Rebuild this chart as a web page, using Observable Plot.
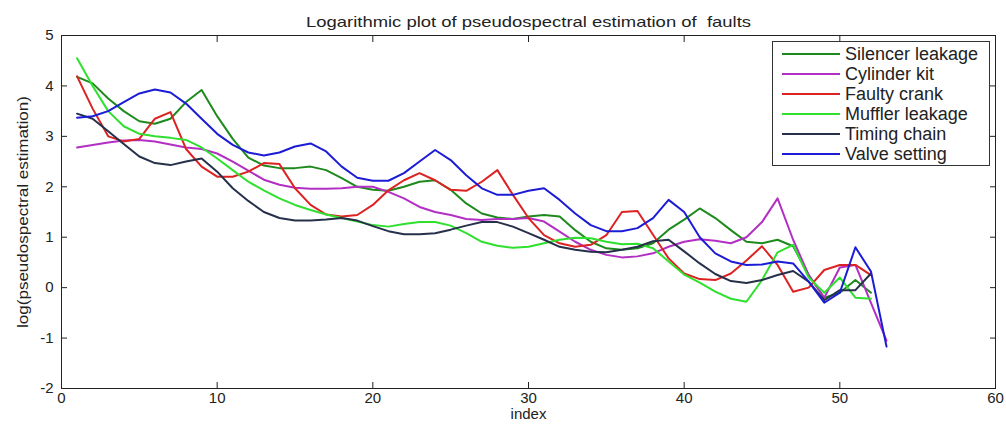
<!DOCTYPE html>
<html>
<head>
<meta charset="utf-8">
<script src="https://cdn.jsdelivr.net/npm/d3@7"></script>
<script src="https://cdn.jsdelivr.net/npm/@observablehq/plot@0.6"></script>
<style>
  body { margin: 0; background: #fff; }
  #wrap { position: relative; width: 1006px; height: 424px; font-family: "Liberation Sans", Arial, sans-serif; }
  #legend { position: absolute; left: 772px; top: 41px; width: 218px; height: 125px; border: 1px solid #333; background: #fff; box-sizing: border-box; padding-top: 2px; }
  .row { height: 20px; display: flex; align-items: center; font-size: 18px; color: #222; white-space: nowrap; }
  .sw { width: 58px; height: 0; border-top: 2.5px solid; margin-left: 9px; margin-right: 5px; }
</style>
</head>
<body>
<div id="wrap"></div>
<script>
const titleText = "Logarithmic plot of pseudospectral estimation of  faults";
const xLabel = "index";
const yLabel = "log(pseudospectral estimation)";
const xTicks = [0, 10, 20, 30, 40, 50, 60];
const yTicks = [-2, -1, 0, 1, 2, 3, 4, 5];

const seriesNames = ["Silencer leakage", "Cylinder kit", "Faulty crank", "Muffler leakage", "Timing chain", "Valve setting"];
const seriesColors = ["#1e8a1e", "#b32fc4", "#dd2222", "#2fe02f", "#26304a", "#1c1cd6"];

const silencerLeakage = [4.18,4.05,3.75,3.5,3.3,3.25,3.35,3.68,3.92,3.4,2.95,2.58,2.42,2.37,2.37,2.4,2.33,2.17,2.0,1.94,1.92,2.0,2.1,2.13,1.94,1.67,1.47,1.39,1.36,1.41,1.44,1.41,1.14,0.91,0.78,0.75,0.78,0.88,1.15,1.35,1.57,1.38,1.14,0.91,0.88,0.95,0.82,0.25,-0.2,-0.1,0.15,-0.1];
const cylinderKit = [2.78,2.83,2.88,2.92,2.93,2.9,2.84,2.78,2.75,2.66,2.5,2.32,2.14,2.04,1.98,1.96,1.96,1.97,2.0,2.0,1.9,1.77,1.6,1.5,1.44,1.36,1.34,1.36,1.36,1.38,1.31,1.11,0.91,0.75,0.65,0.6,0.62,0.68,0.81,0.91,0.96,0.93,0.88,1.0,1.3,1.77,0.95,0.25,-0.2,0.4,0.45,-0.3,-1.05];
const faultyCrank = [4.19,3.55,3.0,2.9,2.95,3.35,3.48,2.75,2.4,2.2,2.2,2.3,2.47,2.45,1.97,1.64,1.45,1.41,1.44,1.64,1.93,2.13,2.27,2.13,1.94,1.92,2.1,2.33,1.84,1.38,1.04,0.88,0.81,0.85,1.04,1.5,1.52,1.05,0.58,0.28,0.17,0.15,0.28,0.54,0.82,0.45,-0.08,0.0,0.35,0.45,0.45,0.25];
const mufflerLeakage = [4.55,4.0,3.5,3.2,3.05,3.0,2.97,2.93,2.78,2.56,2.33,2.1,1.93,1.77,1.64,1.54,1.45,1.38,1.31,1.24,1.21,1.26,1.3,1.3,1.23,1.08,0.91,0.83,0.79,0.81,0.88,0.95,0.99,0.98,0.91,0.86,0.87,0.78,0.52,0.26,0.1,-0.08,-0.22,-0.28,0.15,0.7,0.85,0.2,-0.1,0.2,-0.2,-0.22];
const timingChain = [3.45,3.35,3.1,2.85,2.6,2.47,2.43,2.5,2.56,2.3,1.97,1.72,1.5,1.38,1.33,1.33,1.35,1.38,1.33,1.22,1.12,1.06,1.06,1.08,1.15,1.23,1.3,1.3,1.21,1.08,0.95,0.81,0.75,0.71,0.7,0.75,0.81,0.92,0.95,0.72,0.48,0.27,0.13,0.09,0.15,0.25,0.33,0.12,-0.25,-0.05,-0.05,0.28];
const valveSetting = [3.37,3.4,3.5,3.68,3.85,3.93,3.87,3.65,3.35,3.05,2.83,2.68,2.62,2.68,2.8,2.86,2.7,2.4,2.18,2.12,2.12,2.27,2.5,2.73,2.53,2.23,1.97,1.84,1.84,1.92,1.97,1.74,1.47,1.24,1.12,1.12,1.18,1.38,1.74,1.5,1.0,0.68,0.52,0.45,0.46,0.52,0.48,0.12,-0.3,-0.1,0.8,0.32,-1.17];

const seriesValues = [silencerLeakage, cylinderKit, faultyCrank, mufflerLeakage, timingChain, valveSetting];
const rows = seriesValues.flatMap((vals, s) => vals.map((v, i) => ({series: seriesNames[s], index: i + 1, value: v})));

const noText = () => "";
const chart = Plot.plot({
  width: 1006, height: 424,
  marginLeft: 61, marginRight: 11, marginTop: 35, marginBottom: 36,
  style: {fontFamily: '"Liberation Sans", Arial, sans-serif', fontSize: "15px", color: "#222", background: "#fff"},
  x: {domain: [0, 60]},
  y: {domain: [-2, 5]},
  color: {domain: seriesNames, range: seriesColors},
  marks: [
    Plot.line(rows, {x: "index", y: "value", z: "series", stroke: "series", strokeWidth: 2, curve: "linear"}),
    Plot.frame({stroke: "#222"}),
    Plot.axisX(xTicks, {anchor: "bottom", tickSize: 0, tickPadding: 4, tickFormat: d => String(d), label: xLabel, labelAnchor: "center", labelArrow: "none", labelOffset: 30}),
    Plot.axisX(xTicks, {anchor: "bottom", tickSize: 6, dy: -6, tickFormat: noText, label: null}),
    Plot.axisX(xTicks, {anchor: "top", tickSize: 6, dy: 6, tickFormat: noText, label: null}),
    Plot.axisY(yTicks, {anchor: "left", tickSize: 0, tickPadding: 8, tickFormat: d => String(d), label: yLabel, labelAnchor: "center", labelArrow: "none", labelOffset: 44}),
    Plot.axisY(yTicks, {anchor: "left", tickSize: 6, dx: 6, tickFormat: noText, label: null}),
    Plot.axisY(yTicks, {anchor: "right", tickSize: 6, dx: -6, tickFormat: noText, label: null}),
    Plot.text([titleText], {frameAnchor: "top", dy: -19, fontSize: 15})
  ]
});

// stretch title and y label along their baselines to match the reference's wide lettering
chart.querySelectorAll("text").forEach(t => {
  if (t.textContent === titleText) { t.setAttribute("textLength", 445); t.setAttribute("lengthAdjust", "spacingAndGlyphs"); }
  if (t.textContent === yLabel) { t.setAttribute("textLength", 232); t.setAttribute("lengthAdjust", "spacingAndGlyphs"); }
});

const wrap = document.getElementById("wrap");
wrap.appendChild(chart);

const legend = document.createElement("div");
legend.id = "legend";
seriesNames.forEach((name, i) => {
  const row = document.createElement("div");
  row.className = "row";
  const sw = document.createElement("span");
  sw.className = "sw";
  sw.style.borderColor = seriesColors[i];
  const label = document.createElement("span");
  label.textContent = name;
  row.appendChild(sw);
  row.appendChild(label);
  legend.appendChild(row);
});
wrap.appendChild(legend);
</script>
</body>
</html>
